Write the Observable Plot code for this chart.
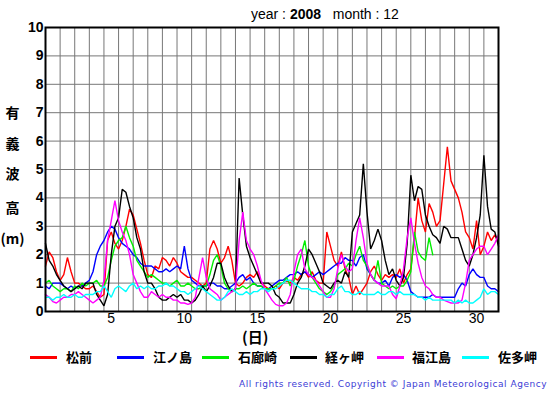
<!DOCTYPE html>
<html><head><meta charset="utf-8">
<script src="https://cdn.jsdelivr.net/npm/d3@7"></script>
<script src="https://cdn.jsdelivr.net/npm/@observablehq/plot@0.6"></script>
<style>
body{margin:0;background:#fff}
#wrap{position:relative;width:555px;height:395px;overflow:hidden;background:#fff}
#chart{position:absolute;left:0;top:0}
.a{position:absolute;white-space:pre;color:#000}
.lat{font-family:"Liberation Sans",Arial,sans-serif}
.cjk{font-family:"Noto Sans CJK JP",sans-serif;font-weight:bold}
.yl{left:0;width:25px;text-align:center;font-size:14px;line-height:18px}
.sw{position:absolute;height:3px}
.lg{font-size:13px;line-height:16px}
svg g[aria-label="y-axis tick label"] text{font-weight:bold}
</style>
</head><body>
<div id="wrap">
<div id="chart"></div>
</div>
<script>
// time step: 6 hours (t = index / 4 days from 1 Dec 00:00)
const stations = ["松前","江ノ島","石廊崎","経ヶ岬","福江島","佐多岬"];
const colors = ["#ff0000","#0000ff","#00ee00","#000000","#ff00ff","#00ffff"];
const xTickDays = [5,10,15,20,25,30];
const yTicks = [0,1,2,3,4,5,6,7,8,9,10];

const matsumae = [1.6,2.1,1.9,1.4, 1.1,1.3,1.9,1.4, 1.0,1.0,0.9,0.8, 0.8,0.9,0.7,0.5,
 0.6,2.5,2.8,2.4, 2.2,2.5,3.0,3.6, 3.4,2.9,2.4,1.8, 1.3,1.2,1.6,1.5, 1.9,1.8,1.6,1.9,
 1.7,1.4,1.3,1.2, 1.2,1.1,1.0,0.9, 1.0,2.2,2.5,2.2, 1.7,1.9,2.3,1.8, 1.0,0.9,1.0,1.2,
 1.3,1.2,1.4,1.0, 0.9,0.8,0.8,0.9, 0.8,1.0,1.1,1.0, 1.2,1.1,1.3,1.4, 1.2,1.4,1.1,1.0,
 1.0,2.8,2.3,1.8, 1.6,2.1,1.5,1.2, 0.6,0.9,0.6,0.8, 1.0,1.4,1.6,1.3, 1.1,1.3,1.2,1.3,
 1.2,1.5,1.0,1.3, 1.5,2.6,4.0,3.2, 2.8,3.8,3.5,3.0, 3.2,4.5,5.8,4.6, 4.3,4.0,3.5,2.8,
 2.6,2.2,3.2,2.0, 2.3,2.8,2.5,2.7, 2.4];
const enoshima = [0.9,0.8,1.0,1.0, 1.0,0.9,0.8,0.9, 0.8,0.9,0.9,1.0, 1.1,1.4,2.0,2.3,
 2.5,2.8,3.0,2.9, 2.6,2.4,2.3,2.2, 2.0,1.9,1.7,1.6, 1.6,1.6,1.5,1.4, 1.4,1.5,1.4,1.5,
 1.6,1.5,2.3,1.5, 1.1,1.0,0.9,0.9, 0.9,1.0,1.0,0.9, 0.9,0.8,0.8,0.9, 1.0,1.2,1.3,1.1,
 1.2,1.0,0.9,0.9, 0.8,0.8,0.9,1.0, 1.1,1.1,1.2,1.3, 1.3,1.4,1.3,1.4, 1.3,1.2,1.3,1.4,
 1.3,1.4,1.5,1.6, 1.7,1.7,1.9,1.8, 1.8,1.6,1.9,2.0, 1.5,1.3,1.1,1.0, 1.0,1.1,0.9,1.2,
 1.3,1.2,1.3,1.1, 0.7,0.6,0.5,0.5, 0.5,0.5,0.6,0.5, 0.5,0.5,0.5,0.5, 0.5,0.8,1.0,0.9,
 1.3,1.5,1.3,1.2, 1.2,0.9,0.8,0.8, 0.7];
const irozaki = [1.0,1.1,0.9,0.8, 0.7,0.8,0.8,0.7, 0.9,0.8,1.0,0.9, 1.0,1.0,1.1,0.9,
 0.9,1.2,1.8,2.3, 2.5,2.6,3.0,2.6, 2.3,1.8,1.6,1.4, 1.2,1.3,1.2,1.1, 1.0,1.0,0.9,1.0,
 1.1,0.9,0.9,1.0, 0.9,0.8,0.8,0.9, 0.9,1.3,1.8,2.0, 1.6,1.0,0.8,0.7, 0.8,0.8,0.9,0.8,
 0.9,1.0,0.9,0.9, 0.8,0.8,0.8,0.9, 1.0,1.0,1.2,0.9, 1.1,1.6,2.0,2.5, 1.6,1.2,1.0,0.8,
 0.7,0.6,0.7,0.9, 1.3,1.4,1.5,1.7, 1.6,2.0,2.3,1.8, 1.6,1.3,1.1,1.8, 1.0,0.9,0.8,0.9,
 0.8,0.9,0.9,1.1, 1.4,2.8,2.1,1.9, 1.8,2.6,2.0,null, null,null,null,null, null,null,null,null,
 null,null,null,null, null,null,null,null, null];
const kyogamisaki = [2.4,1.8,1.6,1.3, 1.1,0.9,0.8,0.7, 0.8,0.9,0.8,1.0, 1.0,1.0,0.6,0.4,
 0.2,0.6,2.0,3.0, 3.3,4.3,4.2,3.7, 3.3,2.6,2.2,1.4, 1.0,1.0,0.8,0.5, 0.4,0.4,0.5,0.6,
 0.5,0.6,0.4,0.4, 0.3,0.4,0.6,0.9, 0.7,0.9,1.2,1.7, 1.7,1.2,0.9,0.7, 0.8,4.7,3.4,2.3,
 1.9,1.6,1.3,1.0, 1.0,1.0,0.9,0.6, 0.5,0.3,0.3,0.3, 0.6,1.0,1.2,1.6, 2.2,2.0,1.7,1.4,
 1.0,0.9,0.8,1.0, 1.1,1.0,1.4,1.2, 2.8,3.1,3.4,5.2, 3.5,2.2,2.5,2.9, 2.5,1.8,1.3,1.5,
 1.1,0.9,1.2,2.4, 4.8,3.9,4.4,4.3, 3.4,3.0,2.7,2.6, 2.4,3.0,2.9,2.6, 2.6,2.6,2.2,1.8,
 1.6,2.0,2.6,3.4, 5.5,3.7,2.9,2.8, 2.3];
const fukuejima = [0.6,0.5,0.35,0.3, 0.4,0.5,0.5,0.6, 0.6,0.7,0.6,0.5, 0.4,0.3,0.4,0.5,
 1.1,2.5,3.2,3.9, 3.2,2.8,2.5,2.0, 1.3,1.0,0.7,0.5, 0.5,0.7,0.6,0.5, 0.6,0.5,0.5,0.4,
 0.4,0.3,0.3,0.25, 0.3,0.5,1.2,1.9, 1.2,0.8,0.7,0.6, 0.4,0.5,0.6,0.7, 0.8,2.5,3.5,2.5,
 2.2,2.0,1.6,1.1, 0.8,0.6,0.4,0.25, 0.2,0.2,0.3,0.6, 1.4,2.0,2.2,1.5, 1.3,1.2,1.1,0.9,
 0.7,0.5,0.5,0.8, 1.5,2.0,1.6,1.4, 1.5,2.5,3.3,2.6, 1.7,1.3,1.1,1.0, 0.9,0.9,0.9,0.6,
 0.45,0.9,1.5,2.6, 3.3,2.4,1.7,1.2, 0.9,0.8,0.6,0.5, 0.5,0.4,0.35,0.3, 0.3,0.3,0.4,1.0,
 1.8,2.0,2.2,2.3, 2.3,2.0,2.2,2.4, 2.7];
const satamisaki = [0.5,0.5,0.4,0.5, 0.5,0.6,0.5,0.5, 0.6,0.5,0.5,0.6, 0.6,0.6,0.7,0.7,
 0.9,0.7,0.5,0.8, 0.9,0.8,0.7,0.9, 1.0,0.8,0.9,0.8, 0.9,0.8,0.8,0.9, 0.9,1.0,0.9,0.9,
 0.8,0.7,0.7,0.6, 0.7,0.8,0.9,0.8, 0.7,0.6,0.5,0.4, 0.4,0.5,0.7,0.8, 0.7,0.6,0.6,0.7,
 0.6,0.7,0.7,0.8, 0.8,0.7,0.8,0.8, 0.9,1.0,1.1,1.1, 1.0,0.9,0.8,0.8, 0.8,0.7,0.7,0.6,
 0.6,0.5,0.6,0.6, 0.8,0.9,0.7,0.7, 0.6,0.6,0.7,0.6, 0.6,0.6,0.6,0.7, 0.6,0.6,0.7,0.7,
 0.6,0.7,0.6,0.6, 0.6,0.6,0.5,0.5, 0.4,0.5,0.4,0.4, 0.4,0.4,0.4,0.4, 0.3,0.4,0.3,0.4,
 0.3,0.3,0.4,0.5, 0.8,0.6,0.7,0.7, 0.6];

const series = [matsumae, enoshima, irozaki, kyogamisaki, fukuejima, satamisaki];
const rows = [];
series.forEach((vals, k) => vals.forEach((v, i) => rows.push({t: i / 4, v, station: stations[k]})));

const chart = Plot.plot({
  width: 555, height: 330,
  marginLeft: 45, marginRight: 57, marginTop: 27, marginBottom: 19,
  style: {fontFamily: '"Liberation Sans", Arial, sans-serif', fontSize: "14px", background: "#fff", overflow: "visible"},
  x: {domain: [0, 31], axis: null, label: null},
  y: {domain: [0, 10], axis: null, label: null},
  color: {domain: stations, range: colors},
  marks: [
    Plot.gridX(d3.range(1, 31), {stroke: "#777", strokeOpacity: 1, strokeWidth: 1}),
    Plot.gridY(d3.range(1, 10), {stroke: "#777", strokeOpacity: 1, strokeWidth: 1}),
    Plot.line(rows, {x: "t", y: "v", z: "station", stroke: "station", strokeWidth: 1.4, strokeLinejoin: "miter"}),
    Plot.axisX(xTickDays.map(d => d - 0.5), {tickSize: 0, tickPadding: 2, label: null, tickFormat: d => String(d + 0.5), fill: "#000"}),
    Plot.axisY(yTicks, {tickSize: 0, tickPadding: 2, label: null, fill: "#000"}),
    Plot.frame({stroke: "#000", strokeWidth: 2})
  ]
});
document.getElementById("chart").appendChild(chart);

const wrap = document.getElementById("wrap");
function add(cls, text, style, html) {
  const d = document.createElement("div");
  d.className = "a " + cls;
  if (html) d.innerHTML = text; else d.textContent = text;
  Object.assign(d.style, style);
  wrap.appendChild(d);
  return d;
}
// title
add("lat", 'year : <b>2008</b>   month : 12', {left: "251px", top: "6px", fontSize: "14px", lineHeight: "16px"}, true);
// y-axis label
const ylab = ["有","義","波","高","(m)"];
const ylabY = [112, 143, 173, 207, 238];
ylab.forEach((c, i) => add("cjk yl", c, {top: (ylabY[i] - 9) + "px"}));
// x-axis label
add("cjk", "(日)", {left: "242px", top: "328px", fontSize: "15px", lineHeight: "18px"});
// legend
const legSw = [30, 117, 202, 290, 377, 462];
const legTx = [66, 153, 238, 325, 412, 498];
stations.forEach((s, i) => {
  const sw = document.createElement("div");
  sw.className = "sw";
  Object.assign(sw.style, {left: legSw[i] + "px", top: "356px", width: "27px", background: colors[i]});
  wrap.appendChild(sw);
  add("cjk lg", s, {left: legTx[i] + "px", top: "349px"});
});
// copyright
const cp = add("", "All rights reserved. Copyright © Japan Meteorological Agency",
  {left: "239px", top: "379px", fontSize: "9px", lineHeight: "11px", color: "#3c3cd6", fontFamily: '"DejaVu Sans", Verdana, sans-serif'});
const w = cp.getBoundingClientRect().width;
const n = cp.textContent.length;
cp.style.letterSpacing = ((308 - w) / n) + "px";
</script>
</body></html>
